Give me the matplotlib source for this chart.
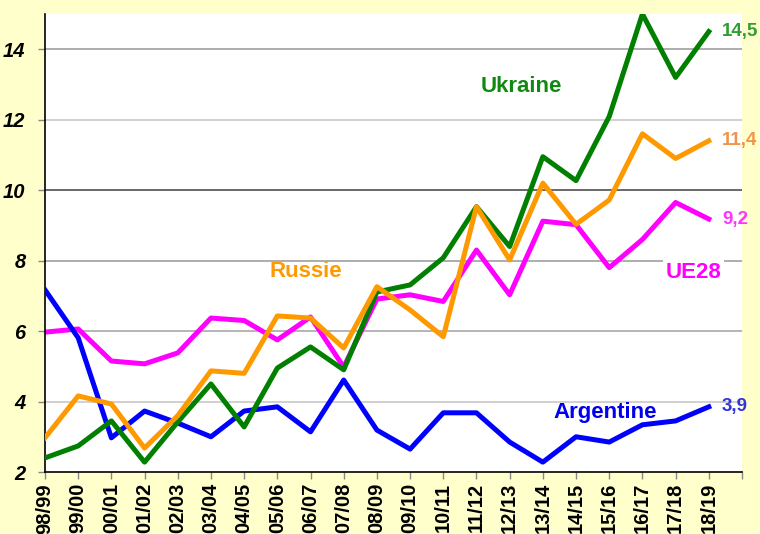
import matplotlib.pyplot as plt

# ── data ────────────────────────────────────────────────────────────────────
seasons = ["98/99", "99/00", "00/01", "01/02", "02/03", "03/04", "04/05",
           "05/06", "06/07", "07/08", "08/09", "09/10", "10/11", "11/12",
           "12/13", "13/14", "14/15", "15/16", "16/17", "17/18", "18/19"]

ukraine   = [2.40, 2.74, 3.45, 2.28, 3.42, 4.50, 3.28, 4.95, 5.55, 4.90, 7.11,
             7.31, 8.08, 9.53, 8.40, 10.95, 10.27, 12.09, 15.0, 13.2, 14.5]
russie    = [2.97, 4.16, 3.93, 2.68, 3.60, 4.87, 4.80, 6.43, 6.37, 5.52, 7.26,
             6.60, 5.84, 9.53, 8.02, 10.20, 9.03, 9.72, 11.6, 10.9, 11.4]
ue28      = [5.97, 6.06, 5.15, 5.07, 5.38, 6.37, 6.30, 5.75, 6.40, 4.98, 6.91,
             7.03, 6.84, 8.30, 7.03, 9.12, 9.02, 7.80, 8.60, 9.65, 9.18]
argentine = [7.17, 5.81, 2.97, 3.73, 3.39, 3.00, 3.73, 3.85, 3.14, 4.61, 3.19,
             2.65, 3.68, 3.68, 2.85, 2.28, 3.00, 2.85, 3.34, 3.45, 3.85]

yticks = [2, 4, 6, 8, 10, 12, 14]
grid_colors = {4: '#c8c8c8', 6: '#a8a8a8', 8: '#a0a0a0',
               10: '#505050', 12: '#c8c8c8', 14: '#a0a0a0'}

plt.rcParams['font.family'] = ['Liberation Sans', 'DejaVu Sans']

fig = plt.figure(figsize=(7.6, 5.34), dpi=100, facecolor='#ffffcc')
ax = fig.add_axes([0.0592, 0.1161, 0.9171, 0.8577])
ax.set_facecolor('white')

x = list(range(len(seasons)))

# gridlines
for lvl, c in grid_colors.items():
    ax.axhline(lvl, color=c, lw=1.2, zorder=0)

lw = 3.6
ax.plot(x, ue28, color='#ff00ff', lw=lw, zorder=2)
ax.plot(x, argentine, color='#0000ff', lw=lw, zorder=3)
ax.plot(x, russie, color='#ff9900', lw=lw, zorder=4)
ax.plot(x, ukraine, color='#007f00', lw=lw, zorder=3)

# series labels
lab = dict(fontsize=16, fontweight='bold', ha='center', va='center', zorder=6)
ax.text(14.34, 12.95, "Ukraine", color='#118811', **lab)
ax.text(7.86, 7.7, "Russie", color='#ff9900', **lab)
ax.text(16.87, 3.7, "Argentine", color='#0000ee', **lab)
ax.text(19.55, 7.65, "UE28", color='#ff00ff',
        bbox=dict(facecolor='white', edgecolor='none', pad=2), **lab)

# end values
val = dict(fontsize=13.5, fontweight='bold', ha='left', va='center', zorder=6)
ax.text(20.4, ukraine[-1], "14,5", color='#2e9e2e', **val)
ax.text(20.4, russie[-1], "11,4", color='#f0944a', **val)
ax.text(20.4, ue28[-1], "9,2", color='#ff33ff', **val)
ax.text(20.4, argentine[-1] + 0.02, "3,9", color='#3333dd', **val)

ax.set_xlim(0, 21)
ax.set_ylim(2, 15)
ax.set_yticks(yticks)
ax.set_yticklabels([str(v) for v in yticks], fontsize=14.5,
                   fontweight='bold', fontstyle='italic')
ax.set_xticks(list(range(22)))
ax.set_xticklabels(seasons + [""], rotation=90, fontsize=14.5, fontweight='bold')

for s in ('top', 'right'):
    ax.spines[s].set_visible(False)
ax.spines['left'].set_linewidth(1.2)
ax.spines['bottom'].set_linewidth(1.2)
ax.tick_params(axis='y', length=5, width=1, color='#888888', pad=9)
ax.tick_params(axis='x', length=5, width=1, color='#888888', pad=3)

fig.savefig('out.png', dpi=100, facecolor=fig.get_facecolor())
